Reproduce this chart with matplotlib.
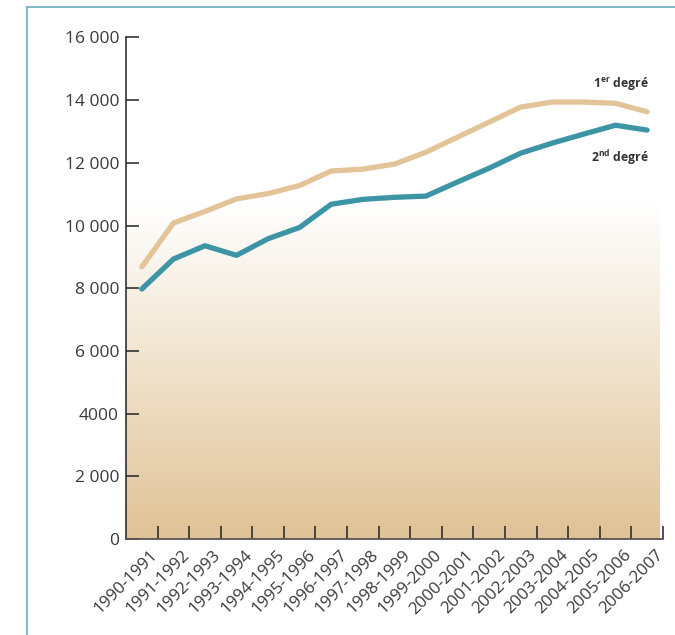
import numpy as np
import matplotlib.pyplot as plt
from matplotlib.colors import LinearSegmentedColormap
from matplotlib.lines import Line2D

years = ["1990-1991", "1991-1992", "1992-1993", "1993-1994", "1994-1995",
         "1995-1996", "1996-1997", "1997-1998", "1998-1999", "1999-2000",
         "2000-2001", "2001-2002", "2002-2003", "2003-2004", "2004-2005",
         "2005-2006", "2006-2007"]
premier = [8680, 10080, 10450, 10850, 11020, 11280, 11740, 11800, 11960, 12340,
           12820, 13300, 13780, 13940, 13940, 13900, 13630]
second = [7975, 8930, 9355, 9050, 9580, 9940, 10680, 10835, 10900, 10940,
          11390, 11830, 12310, 12630, 12920, 13200, 13045]
yticks = [0, 2000, 4000, 6000, 8000, 10000, 12000, 14000, 16000]
ylabels = ["0", "2 000", "4000", "6 000", "8 000", "10 000", "12 000", "14 000", "16 000"]

plt.rcParams['font.family'] = ['Open Sans', 'DejaVu Sans']

fig = plt.figure(figsize=(6.75, 6.35), dpi=100)
ax = fig.add_axes([0.1867, 0.1512, 0.7953, 0.7898])

# background gradient (white at top -> tan at bottom)
cmap = LinearSegmentedColormap.from_list("tan", [(0, "#e0c296"), (0.5, "#f0e2cc"), (1, "#ffffff")])
grad = np.linspace(0, 1, 256).reshape(-1, 1)
ax.imshow(grad, extent=[0, 16.9, 0, 10700], origin="lower", aspect="auto",
          cmap=cmap, zorder=0)

x = np.arange(len(years)) + 0.5
ax.plot(x, premier, color="#e3c498", lw=3.8, solid_capstyle="round", zorder=3)
ax.plot(x, second, color="#3c94a4", lw=3.8, solid_capstyle="round", zorder=3)

fig.text(649 / 675, 1 - 84 / 635, r"1$^{\mathregular{er}}$ degré", ha="right",
         va="center", fontsize=8.8, fontweight="bold", color="#333333")
fig.text(649 / 675, 1 - 158 / 635, r"2$^{\mathregular{nd}}$ degré", ha="right",
         va="center", fontsize=8.8, fontweight="bold", color="#333333")

ax.set_xlim(0, 17)
ax.set_ylim(0, 16000)
ax.set_yticks(yticks)
ax.set_yticklabels(ylabels, fontsize=12.5, color="#3a3a3a")
ax.set_xticks(np.arange(1, 18))
ax.set_xticklabels([])
ax.set_xticks(x + 0.25, minor=True)
ax.set_xticklabels(years, minor=True, rotation=45, ha="right", va="top",
                   rotation_mode="anchor", fontsize=12.2, color="#3a3a3a")
ax.tick_params(axis="x", which="minor", length=0, pad=6)
ax.tick_params(axis="x", which="major", direction="in", length=9.5, width=1.1, color="#222222")
ax.tick_params(axis="y", direction="in", length=9.5, width=1.1, color="#222222", pad=5)

for s in ["top", "right"]:
    ax.spines[s].set_visible(False)
ax.spines["left"].set_color("#222222")
ax.spines["bottom"].set_color("#555555")
ax.spines["left"].set_linewidth(1.1)
ax.spines["bottom"].set_linewidth(1.3)

# blue frame on the page
fig.add_artist(Line2D([27 / 675, 27 / 675], [0, 1 - 7 / 635], transform=fig.transFigure,
                      color="#73b3c3", lw=1.3))
fig.add_artist(Line2D([27 / 675, 1], [1 - 7 / 635, 1 - 7 / 635], transform=fig.transFigure,
                      color="#73b3c3", lw=1.3))

fig.savefig("out.png", dpi=100)
